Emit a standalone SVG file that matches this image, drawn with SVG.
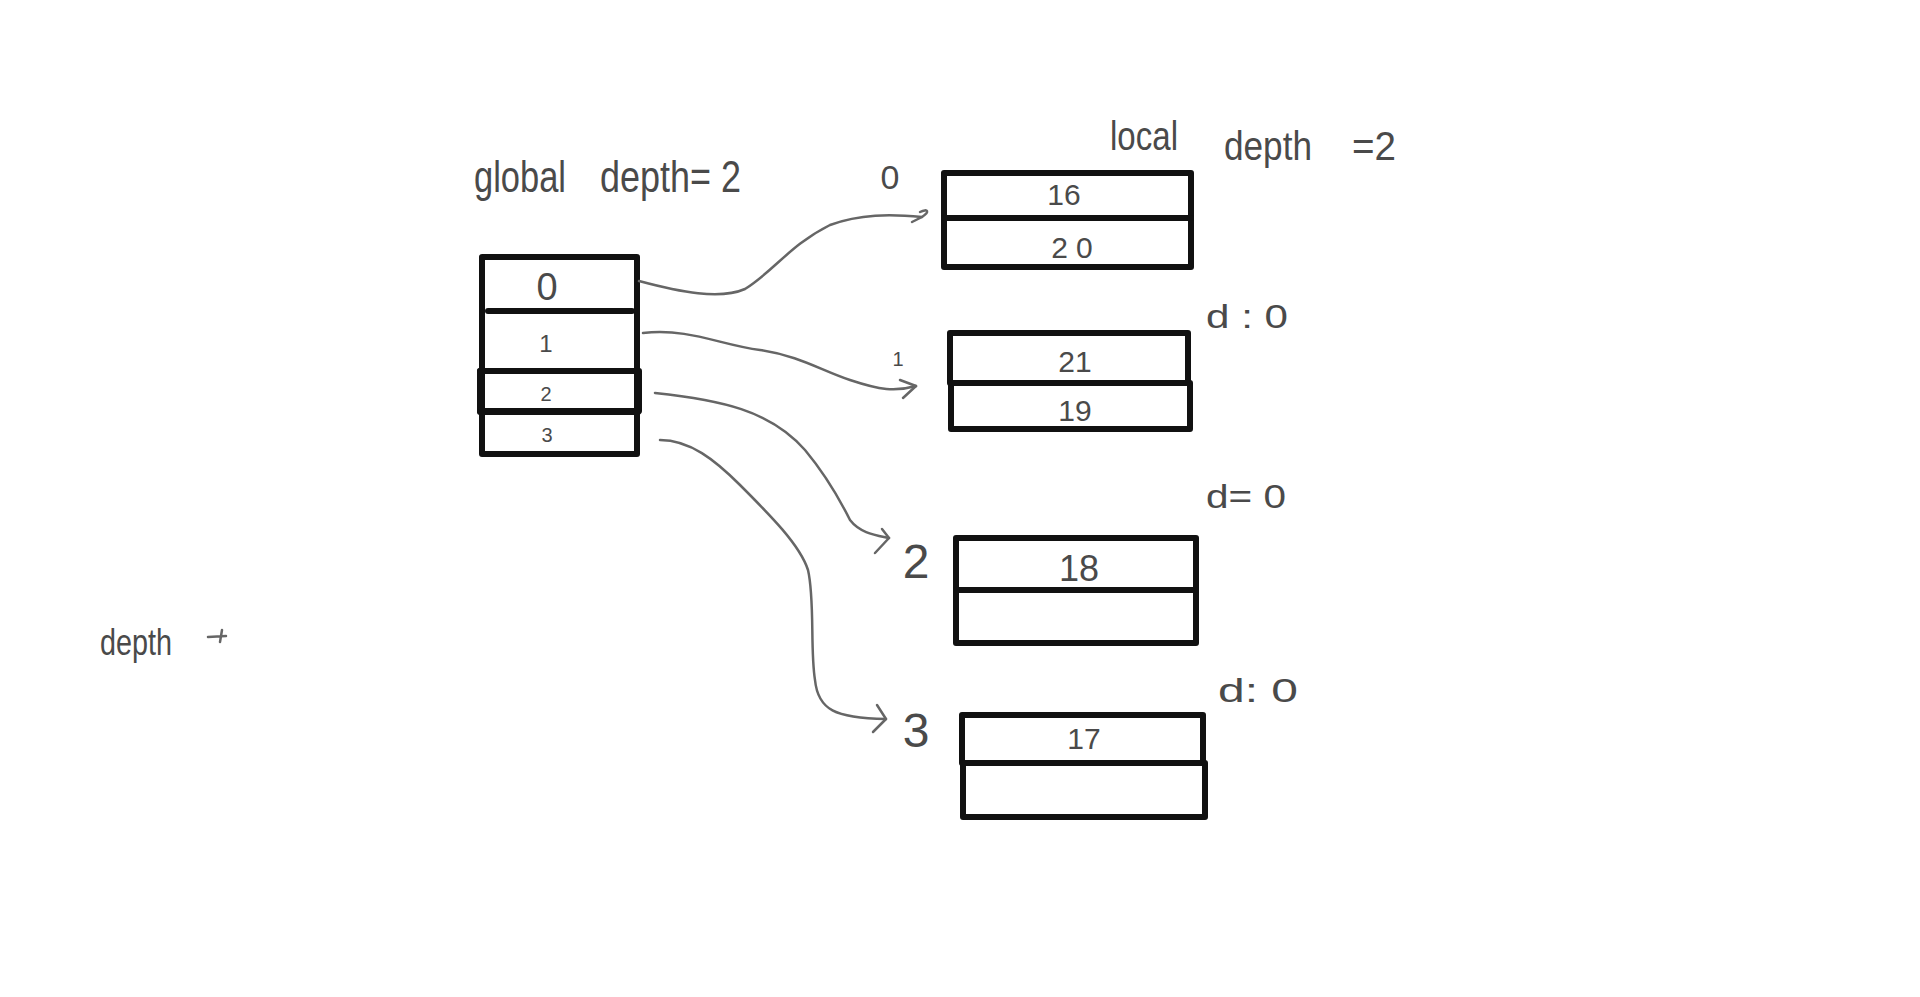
<svg xmlns="http://www.w3.org/2000/svg" width="1920" height="997" viewBox="0 0 1920 997">
<style>
.box{fill:none;stroke:#111;stroke-width:6;stroke-linecap:round;stroke-linejoin:round}
.div{stroke:#111;stroke-width:6;stroke-linecap:round}
.t{font-family:"Liberation Sans",Arial,sans-serif;fill:#4a4a4a}
.c{fill:none;stroke:#666;stroke-width:2.5;stroke-linecap:round;stroke-linejoin:round}
</style>
<rect width="1920" height="997" fill="#fff"/>
<g id="title-global">
<text class="t" x="474" y="192" font-size="44" textLength="92" lengthAdjust="spacingAndGlyphs">global</text>
<text class="t" x="600" y="192" font-size="44" textLength="141" lengthAdjust="spacingAndGlyphs">depth= 2</text>
</g>
<g id="title-local">
<text class="t" x="1110" y="150" font-size="40" textLength="68" lengthAdjust="spacingAndGlyphs">local</text>
<text class="t" x="1224" y="160" font-size="40" textLength="88" lengthAdjust="spacingAndGlyphs">depth</text>
<text class="t" x="1352" y="160" font-size="40" textLength="44" lengthAdjust="spacingAndGlyphs">=2</text>
</g>
<g id="directory">
<rect class="box" x="482" y="257" width="155" height="197"/>
<line class="div" x1="488" y1="311" x2="632" y2="311"/>
<line class="div" x1="480" y1="371" x2="638" y2="371" stroke-width="8"/>
<rect class="box" x="480" y="371" width="159" height="40"/>
<line class="div" x1="480" y1="412" x2="638" y2="412" stroke-width="8"/>
<text class="t" x="547" y="300" font-size="38" text-anchor="middle">0</text>
<text class="t" x="546" y="352" font-size="24" text-anchor="middle">1</text>
<text class="t" x="546" y="401" font-size="20" text-anchor="middle">2</text>
<text class="t" x="547" y="442" font-size="20" text-anchor="middle">3</text>
</g>
<g id="bucket0">
<rect class="box" x="944" y="173" width="247" height="94"/>
<line class="div" x1="944" y1="218" x2="1191" y2="218"/>
<text class="t" x="1064" y="205" font-size="30" text-anchor="middle">16</text>
<text class="t" x="1076" y="258" font-size="30" text-anchor="middle" letter-spacing="8">20</text>
<text class="t" x="890" y="189" font-size="34" text-anchor="middle">0</text>
</g>
<g id="bucket1">
<rect class="box" x="950" y="333" width="238" height="50"/>
<rect class="box" x="951" y="383" width="239" height="46"/>
<text class="t" x="1075" y="372" font-size="30" text-anchor="middle">21</text>
<text class="t" x="1075" y="421" font-size="30" text-anchor="middle">19</text>
<text class="t" x="898" y="366" font-size="20" text-anchor="middle">1</text>
<text class="t" x="1206" y="328" font-size="34" textLength="82" lengthAdjust="spacingAndGlyphs">d : 0</text>
</g>
<g id="bucket2">
<rect class="box" x="956" y="538" width="240" height="105"/>
<line class="div" x1="956" y1="590" x2="1196" y2="590"/>
<text class="t" x="1079" y="581" font-size="36" text-anchor="middle">18</text>
<text class="t" x="916" y="578" font-size="48" text-anchor="middle">2</text>
<text class="t" x="1206" y="508" font-size="34" textLength="80" lengthAdjust="spacingAndGlyphs">d= 0</text>
</g>
<g id="bucket3">
<rect class="box" x="962" y="715" width="241" height="48"/>
<rect class="box" x="963" y="763" width="242" height="54"/>
<text class="t" x="1084" y="749" font-size="30" text-anchor="middle">17</text>
<text class="t" x="916" y="747" font-size="48" text-anchor="middle">3</text>
<text class="t" x="1218" y="702" font-size="34" textLength="80" lengthAdjust="spacingAndGlyphs">d: 0</text>
</g>
<g id="note">
<text class="t" x="100" y="655" font-size="36" textLength="72" lengthAdjust="spacingAndGlyphs">depth</text>
<path class="c" d="M208 637 L226 636 M222 630 L220 642" stroke="#444"/>
</g>
<g id="connectors">
<path class="c" d="M639 281 C680 292 720 300 745 289 C775 270 790 245 830 225 C860 214 890 214 922 217"/>
<path class="c" d="M922 217 C930 212 928 208 920 212 M922 217 L912 222"/>
<path class="c" d="M643 333 C690 328 720 345 760 350 C800 356 820 370 850 380 C880 390 895 392 916 386"/>
<path class="c" d="M916 386 L900 380 M916 386 L903 398"/>
<path class="c" d="M655 393 C720 400 770 410 805 450 C830 480 845 510 850 520 C860 533 875 535 889 538"/>
<path class="c" d="M889 538 L882 529 M889 538 L875 553"/>
<path class="c" d="M660 440 C690 440 715 460 740 485 C770 515 800 545 808 570 C815 600 810 650 815 680 C818 710 835 718 886 719"/>
<path class="c" d="M886 719 L877 705 M886 719 L873 732"/>
</g>
</svg>
